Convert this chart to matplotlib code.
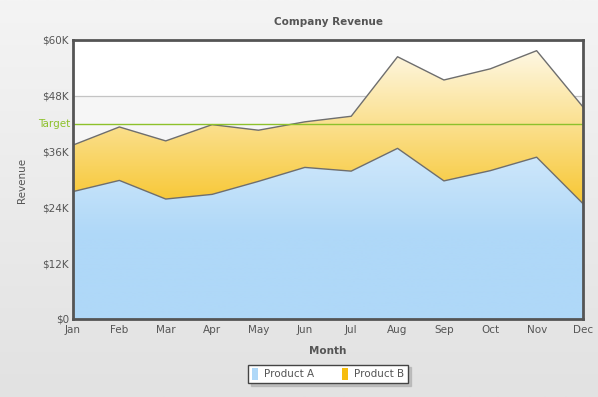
import numpy as np
import matplotlib.pyplot as plt
from matplotlib.colors import to_rgb
from matplotlib.patches import Patch, Polygon
import matplotlib.transforms as mtransforms

# data
months = ['Jan', 'Feb', 'Mar', 'Apr', 'May', 'Jun', 'Jul', 'Aug', 'Sep', 'Oct', 'Nov', 'Dec']
product_a = [27400, 29800, 25800, 26800, 29600, 32600, 31800, 36700, 29700, 31900, 34800, 24800]
product_b = [10000, 11500, 12500, 15000, 11000, 9800, 11800, 19700, 21700, 21900, 22900, 20800]
target = 42000
y_ticks = [0, 12000, 24000, 36000, 48000, 60000]
y_tick_labels = ['$0', '$12K', '$24K', '$36K', '$48K', '$60K']

color_a = '#AFD8F8'
color_b = '#F6BD0F'
text_col = '#555555'
W, H = 598, 397

fig = plt.figure(figsize=(W / 100, H / 100), dpi=100)

# page background gradient
bg = fig.add_axes([0, 0, 1, 1], zorder=-10)
g = np.linspace(0, 1, 200)[:, None]
top = np.array(to_rgb('#f4f4f4'))
bot = np.array(to_rgb('#e2e2e2'))
bg.imshow((top * (1 - g) + bot * g)[:, None, :], aspect='auto', extent=[0, 1, 0, 1])
bg.axis('off')

ax = fig.add_axes([73 / W, (H - 319) / H, (583 - 73) / W, (319 - 40) / H])
ax.set_facecolor('white')
x = np.arange(len(months))
a = np.array(product_a)
total = a + np.array(product_b)


def gradient_area(lower, upper, color):
    verts = np.column_stack([np.r_[x, x[::-1]], np.r_[upper, lower[::-1]]])
    poly = Polygon(verts, closed=True, facecolor='none', edgecolor='none', transform=ax.transData)
    ax.add_patch(poly)
    base = np.array(to_rgb(color))
    t = np.linspace(0, 1, 300)[:, None]
    w = np.clip((t - 0.3) / 0.75, 0, 1)
    rgb = base * (1 - w) + w
    im = ax.imshow(rgb[::-1][:, None, :], extent=[0, 11, 0, 60000],
                   aspect='auto', origin='upper', zorder=2)
    im.set_clip_path(poly)


# alternating bands + grid
for lo in [12000, 36000]:
    ax.axhspan(lo, lo + 12000, color='#f6f6f6', zorder=0, lw=0)
for yv in y_ticks[1:-1]:
    ax.axhline(yv, color='#c4c4c4', lw=0.9, zorder=1)

gradient_area(np.zeros(len(x)), a, color_a)
gradient_area(a, total, color_b)
ax.plot(x, a, color='#6e6e6e', lw=1, zorder=3)
ax.plot(x, total, color='#6e6e6e', lw=1, zorder=3)

# target trend line
ax.axhline(target, color='#8dc12b', lw=1, zorder=4)
trans = mtransforms.blended_transform_factory(ax.transAxes, ax.transData)
ax.text(-0.006, target, 'Target', transform=trans, ha='right', va='center',
        fontsize=7.5, color='#8dc12b')

ax.set_xlim(0, 11)
ax.set_ylim(0, 60000)
ax.set_xticks(x, months)
ax.set_yticks(y_ticks, y_tick_labels)
ax.tick_params(length=0, labelsize=7.5, labelcolor=text_col)
ax.tick_params(axis='x', pad=4)
ax.tick_params(axis='y', pad=3)
for sp in ax.spines.values():
    sp.set_color('#555555')
    sp.set_linewidth(2)
    sp.set_zorder(5)

fig.text(328 / W, 1 - 22 / H, 'Company Revenue', ha='center', va='center',
         fontsize=7.5, fontweight='bold', color=text_col)
fig.text(22 / W, 1 - 180 / H, 'Revenue', ha='center', va='center', rotation=90,
         fontsize=7.5, color=text_col)
fig.text(328 / W, 1 - 351 / H, 'Month', ha='center', va='center',
         fontsize=7.5, fontweight='bold', color=text_col)

handles = [Patch(facecolor=color_a, edgecolor='none'), Patch(facecolor=color_b, edgecolor='none')]
leg = fig.legend(handles, ['Product A', 'Product B'], loc='center',
                 bbox_to_anchor=(328 / W, 1 - 374 / H), ncol=2, fontsize=7.5,
                 frameon=True, fancybox=False, shadow={'color': '#b0b0b0', 'alpha': 0.7},
                 edgecolor='#444444', framealpha=1,
                 handlelength=0.6, handleheight=1.3, handletextpad=0.6,
                 columnspacing=2.6, borderpad=0.35, borderaxespad=0)
leg.get_frame().set_linewidth(1)
for t in leg.get_texts():
    t.set_color(text_col)

fig.savefig('out.png', dpi=100)
